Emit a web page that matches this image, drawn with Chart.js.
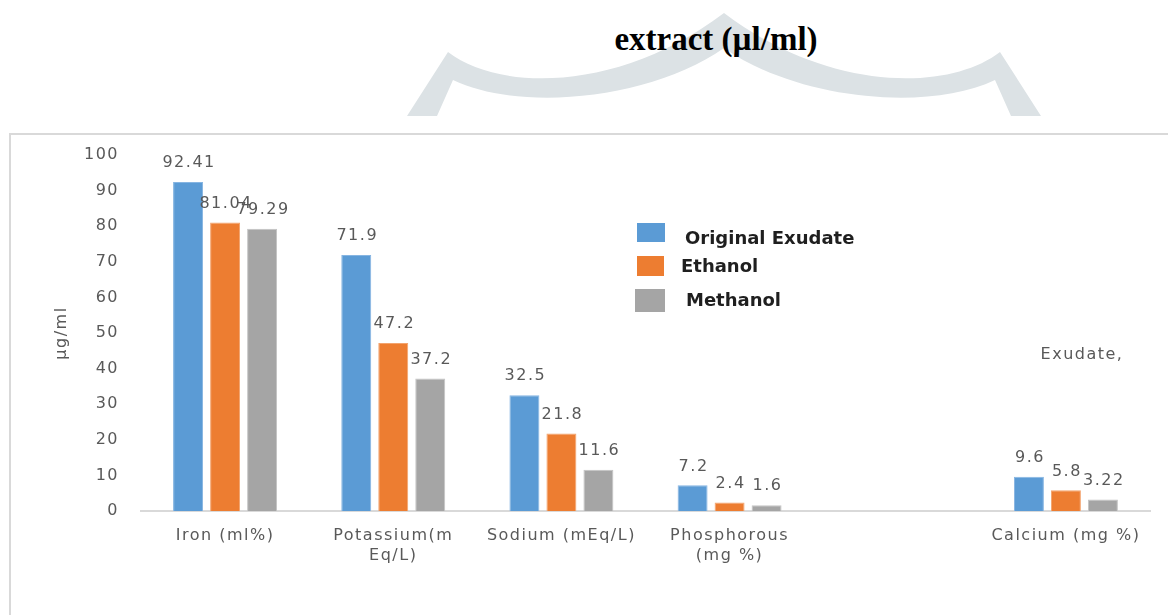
<!DOCTYPE html>
<html>
<head>
<meta charset="utf-8">
<script src="https://cdn.jsdelivr.net/npm/chart.js@4/dist/chart.umd.min.js"></script>
<style>
  html, body { margin: 0; padding: 0; background: #fff; width: 1168px; height: 615px; overflow: hidden; }
  #arch { position: absolute; left: 0; top: 0; }
  #frame { position: absolute; left: 9px; top: 133px; width: 1200px; height: 600px;
           border-left: 2px solid #d9d9d9; border-top: 2px solid #d9d9d9; }
  #heading { position: absolute; left: 0; top: 19px; width: 1432px; text-align: center;
             font: bold 33px "Liberation Serif", serif; line-height: 40px; color: #000; }
  #c { position: absolute; left: 0; top: 0; }
</style>
</head>
<body>
<svg id="arch" width="1168" height="116" viewBox="0 0 1168 116">
  <path d="M 407 116 L 448 52 C 500 92 620 92 724 13 C 828 92 948 92 1000 52 L 1041 116
           L 1011 116 L 995 80 C 928 112 798 100 724 48 C 650 100 520 112 453 80 L 437 116 Z"
        fill="#dce2e5"/>
</svg>
<div id="frame"></div>
<div id="heading">extract (µl/ml)</div>
<canvas id="c" width="1168" height="615"></canvas>
<script>
// Mineral content per extract type
const categories = [
  'Iron (ml%)',
  ['Potassium(m', 'Eq/L)'],
  'Sodium (mEq/L)',
  ['Phosphorous', '(mg %)'],
  '',
  'Calcium (mg %)'
];
const originalExudate = [92.41, 71.9, 32.5, 7.2, null, 9.6];
const ethanol         = [81.04, 47.2, 21.8, 2.4, null, 5.8];
const methanol        = [79.29, 37.2, 11.6, 1.6, null, 3.22];
const seriesNames = ['Original Exudate', 'Ethanol', 'Methanol'];
const yMin = 0, yMax = 100, yStep = 10;
const yAxisTitle = 'µg/ml';
const sideNote = 'Exudate,';

const TEXT_GREY = '#595959';
const BASE_FONT = 'DejaVu Sans';

// widen glyph spacing for all axis and value text
function spacing(chart) { chart.ctx.letterSpacing = '1.5px'; }

const spacingPlugin = {
  id: 'spacing',
  beforeUpdate: spacing,
  beforeLayout: spacing,
  beforeDraw: spacing
};

// value labels above each bar
const valueLabels = {
  id: 'valueLabels',
  afterDatasetsDraw(chart) {
    const ctx = chart.ctx;
    ctx.save();
    ctx.letterSpacing = '1.5px';
    ctx.font = '16px "' + BASE_FONT + '"';
    ctx.fillStyle = TEXT_GREY;
    ctx.textAlign = 'center';
    ctx.textBaseline = 'middle';
    chart.data.datasets.forEach((ds, i) => {
      const meta = chart.getDatasetMeta(i);
      meta.data.forEach((bar, j) => {
        const v = ds.data[j];
        if (v === null || v === undefined) return;
        ctx.fillText(String(v), bar.x + 1, bar.y - 19);
      });
    });
    ctx.restore();
  }
};

// legend block placed inside the plot and the stray note on the right
const legendItems = [
  { box: [637, 223, 28, 19], text: [685, 239] },
  { box: [637, 256, 27, 20], text: [681, 267] },
  { box: [635, 289, 30, 23], text: [686, 301] }
];
const sideLegend = {
  id: 'sideLegend',
  afterDraw(chart) {
    const ctx = chart.ctx;
    ctx.save();
    ctx.letterSpacing = '0px';
    chart.data.datasets.forEach((ds, i) => {
      const it = legendItems[i];
      ctx.fillStyle = ds.backgroundColor;
      ctx.fillRect(it.box[0], it.box[1], it.box[2], it.box[3]);
      ctx.font = 'bold 18px "' + BASE_FONT + '"';
      ctx.fillStyle = '#1f1f1f';
      ctx.textAlign = 'left';
      ctx.textBaseline = 'middle';
      ctx.fillText(ds.label, it.text[0], it.text[1]);
    });
    ctx.letterSpacing = '1.5px';
    ctx.font = '16px "' + BASE_FONT + '"';
    ctx.fillStyle = TEXT_GREY;
    ctx.textAlign = 'center';
    ctx.textBaseline = 'middle';
    ctx.fillText(sideNote, 1082, 355);
    ctx.restore();
  }
};

const barStyle = { barPercentage: 0.81, categoryPercentage: 0.66, borderWidth: 1 };

new Chart(document.getElementById('c'), {
  type: 'bar',
  data: {
    labels: categories,
    datasets: [
      Object.assign({ label: seriesNames[0], data: originalExudate, backgroundColor: '#5b9bd5', borderColor: '#86b5e2' }, barStyle),
      Object.assign({ label: seriesNames[1], data: ethanol, backgroundColor: '#ed7d31', borderColor: '#f3a36d' }, barStyle),
      Object.assign({ label: seriesNames[2], data: methanol, backgroundColor: '#a5a5a5', borderColor: '#c4c4c4' }, barStyle)
    ]
  },
  options: {
    responsive: false,
    animation: false,
    devicePixelRatio: 1,
    layout: { padding: { left: 0, right: 18, top: 155, bottom: 0 } },
    plugins: {
      legend: { display: false },
      title: { display: false },
      tooltip: { enabled: false }
    },
    scales: {
      x: {
        grid: { display: false, drawTicks: false },
        border: { display: true, color: '#d9d9d9', width: 2 },
        ticks: {
          color: TEXT_GREY,
          font: { family: BASE_FONT, size: 16, lineHeight: 1.3 },
          padding: 14,
          maxRotation: 0,
          autoSkip: false
        },
        afterFit(scale) { scale.height = 104; }
      },
      y: {
        min: yMin,
        max: yMax,
        grid: { display: false, drawTicks: false },
        border: { display: false },
        ticks: {
          stepSize: yStep,
          color: TEXT_GREY,
          font: { family: BASE_FONT, size: 16 },
          padding: 22
        },
        title: {
          display: true,
          text: yAxisTitle,
          color: TEXT_GREY,
          font: { family: BASE_FONT, size: 16, lineHeight: 1.2 },
          padding: { top: 52, bottom: 0 }
        },
        afterFit(scale) { scale.width = 141; }
      }
    }
  },
  plugins: [spacingPlugin, valueLabels, sideLegend]
});
</script>
</body>
</html>
